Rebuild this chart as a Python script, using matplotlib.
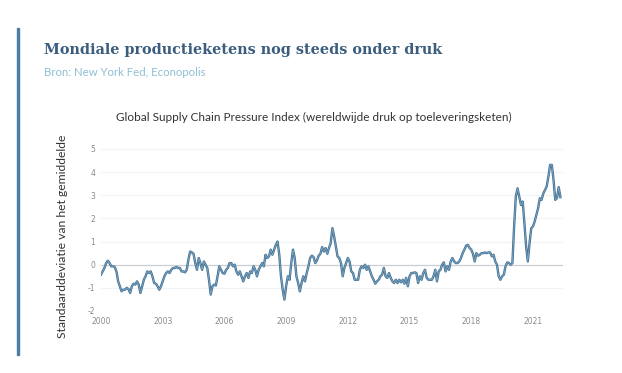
import numpy as np
import matplotlib
matplotlib.use("Agg")
import matplotlib.pyplot as plt
from matplotlib.patches import Rectangle

# Monthly GSCPI values, Jan 2000 .. May 2022
start_year = 2000
gscpi = [
    # 2000
    -0.43, -0.29, -0.14, 0.07, 0.17, 0.07, -0.07, -0.07, -0.10, -0.29, -0.72, -0.93,
    # 2001
    -1.15, -1.08, -1.08, -1.00, -1.05, -1.22, -0.93, -0.82, -0.86, -0.72, -0.86, -1.22,
    # 2002
    -0.93, -0.65, -0.50, -0.29, -0.36, -0.29, -0.50, -0.79, -0.82, -0.93, -1.08, -0.93,
    # 2003
    -0.72, -0.50, -0.36, -0.29, -0.36, -0.22, -0.14, -0.14, -0.10, -0.14, -0.14, -0.29,
    # 2004
    -0.29, -0.33, -0.22, 0.22, 0.57, 0.53, 0.47, 0.07, -0.22, 0.29, 0.07, -0.22,
    # 2005
    0.14, 0.00, -0.14, -0.65, -1.29, -0.93, -0.86, -0.90, -0.50, -0.07, -0.22, -0.36,
    # 2006
    -0.39, -0.22, -0.14, 0.07, 0.07, -0.07, 0.00, -0.29, -0.43, -0.29, -0.50, -0.72,
    # 2007
    -0.50, -0.36, -0.57, -0.29, -0.36, -0.07, -0.22, -0.50, -0.22, -0.07, 0.07, -0.07,
    # 2008
    0.43, 0.29, 0.36, 0.65, 0.43, 0.65, 0.86, 1.00, 0.43, -0.50, -1.08, -1.51,
    # 2009
    -0.93, -0.50, -0.65, 0.07, 0.65, 0.29, -0.50, -0.79, -1.15, -0.79, -0.50, -0.72,
    # 2010
    -0.36, -0.07, 0.29, 0.39, 0.33, 0.07, 0.19, 0.39, 0.47, 0.76, 0.57, 0.72,
    # 2011
    0.47, 0.72, 0.93, 1.58, 1.22, 0.79, 0.36, 0.29, 0.07, -0.50, -0.14, 0.07,
    # 2012
    0.29, 0.14, -0.29, -0.36, -0.65, -0.65, -0.65, -0.22, -0.07, -0.14, 0.00, -0.22,
    # 2013
    -0.07, -0.29, -0.50, -0.65, -0.82, -0.72, -0.65, -0.50, -0.43, -0.14, -0.50, -0.57,
    # 2014
    -0.36, -0.57, -0.72, -0.79, -0.65, -0.79, -0.65, -0.76, -0.65, -0.82, -0.57, -0.93,
    # 2015
    -0.50, -0.36, -0.36, -0.33, -0.36, -0.79, -0.50, -0.65, -0.36, -0.22, -0.57, -0.65,
    # 2016
    -0.65, -0.65, -0.50, -0.22, -0.72, -0.29, -0.22, 0.00, 0.10, -0.29, -0.07, -0.22,
    # 2017
    0.14, 0.29, 0.14, 0.07, 0.07, 0.14, 0.29, 0.50, 0.65, 0.82, 0.86, 0.72,
    # 2018
    0.65, 0.47, 0.14, 0.50, 0.39, 0.43, 0.50, 0.50, 0.53, 0.50, 0.53, 0.53,
    # 2019
    0.36, 0.43, 0.14, 0.00, -0.50, -0.65, -0.50, -0.43, -0.07, 0.10, 0.07, 0.00,
    # 2020
    0.07, 1.65, 2.95, 3.30, 2.95, 2.58, 2.73, 1.80, 0.79, 0.14, 0.93, 1.58,
    # 2021
    1.65, 1.87, 2.15, 2.44, 2.87, 2.80, 3.07, 3.23, 3.38, 3.81, 4.31, 4.31,
    # 2022
    3.66, 2.80, 2.87, 3.35, 2.92,
]
x_ticks = [2000, 2003, 2006, 2009, 2012, 2015, 2018, 2021]
y_ticks = [-2, -1, 0, 1, 2, 3, 4, 5]

title = "Mondiale productieketens nog steeds onder druk"
subtitle = "Bron: New York Fed, Econopolis"
chart_title = "Global Supply Chain Pressure Index (wereldwijde druk op toeleveringsketen)"
y_label = "Standaarddeviatie van het gemiddelde"

W, H = 622, 373
fig = plt.figure(figsize=(W / 100, H / 100), dpi=100)
fig.patch.set_facecolor("white")

def fx(px):
    return px / W

def fy(py):
    return 1 - py / H

# left accent bar
fig.patches.append(Rectangle((fx(16.5), fy(355)), fx(2.5), (355 - 28) / H,
                             transform=fig.transFigure, color="#4f7ca3", zorder=5))

fig.text(fx(44), fy(50), title, fontsize=10.4, fontweight="bold",
         family="DejaVu Serif", color="#3b5d7e", va="center", ha="left")
fig.text(fx(44), fy(73), subtitle, fontsize=8.2, family="Lato",
         color="#8fbfd6", va="center", ha="left")
fig.text(fx(314), fy(117), chart_title, fontsize=8.5, family="Lato",
         color="#333333", va="center", ha="center")
fig.text(fx(63), fy(236), y_label, fontsize=8.7, family="Lato",
         color="#333333", va="center", ha="center", rotation=90)

left_px, right_px = 101, 563
top_px, bot_px = 142, 311
ax = fig.add_axes([fx(left_px), fy(bot_px), (right_px - left_px) / W, (bot_px - top_px) / H])

xs = start_year + np.arange(len(gscpi)) / 12.0
ax.set_xlim(2000, 2000 + (right_px - left_px) / 20.57)
ax.set_ylim(-2, 5.3)

for yv in y_ticks:
    if yv == 0:
        ax.axhline(0, color="#c9cfd4", lw=0.9, zorder=1)
    elif yv > -2:
        ax.axhline(yv, color="#f1f3f5", lw=0.9, zorder=0)

ax.plot(xs, gscpi, color="#46708f", lw=1.7, zorder=3, solid_joinstyle="round")
ax.plot(xs, gscpi, color="#7aa6c8", lw=0.6, zorder=4, solid_joinstyle="round")

ax.set_xticks(x_ticks)
ax.set_xticklabels([str(t) for t in x_ticks])
ax.set_yticks(y_ticks)
ax.set_yticklabels([str(t) for t in y_ticks])
ax.tick_params(length=0, labelsize=5.5, colors="#8a8a8a", pad=4)
for lab in ax.get_xticklabels() + ax.get_yticklabels():
    lab.set_family("DejaVu Sans")
for s in ax.spines.values():
    s.set_visible(False)

fig.savefig("out.png", dpi=100, facecolor="white")
